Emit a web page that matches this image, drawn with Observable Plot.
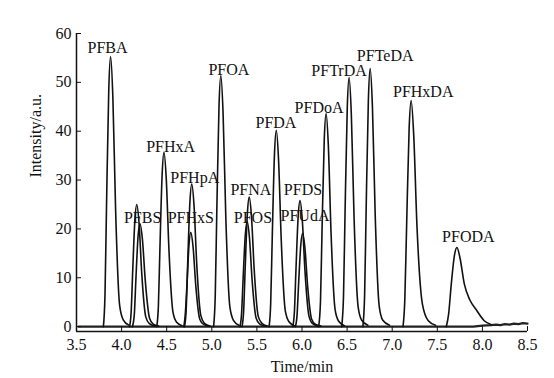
<!DOCTYPE html>
<html><head><meta charset="utf-8">
<script src="https://cdn.jsdelivr.net/npm/d3@7"></script>
<script src="https://cdn.jsdelivr.net/npm/@observablehq/plot@0.6"></script>
<style>body{margin:0;background:#fff}</style>
</head><body><div id="chart"></div>
<script>
// Axis ticks
const xTicks = [3.5, 4.0, 4.5, 5.0, 5.5, 6.0, 6.5, 7.0, 7.5, 8.0, 8.5];
const yTicks = [0, 10, 20, 30, 40, 50, 60];
const xDomain = [3.5, 8.5];
const yDomain = [-1, 60];

// Chromatogram traces: [time (min), intensity (a.u.)]
const PFBA   = [[3.798,0],[3.816,6.6],[3.833,24.9],[3.858,48.7],[3.878,55.3],[3.903,47.0],[3.933,24.3],[3.978,4.4],[4.018,1.4],[4.08,0.3]];
const PEAK2  = [[4.088,0],[4.106,3.0],[4.123,11.3],[4.148,22.0],[4.168,25.0],[4.193,21.3],[4.223,11.0],[4.268,2.0],[4.308,0.6],[4.37,0.1]];
const PFBS   = [[4.12,0],[4.141,2.5],[4.158,9.5],[4.183,18.6],[4.203,21.1],[4.23,18.0],[4.263,9.3],[4.31,1.7],[4.35,0.5],[4.41,0.1]];
const PFHxA  = [[4.39,0],[4.408,4.3],[4.425,16.1],[4.45,31.4],[4.47,35.7],[4.495,30.3],[4.525,15.7],[4.57,2.9],[4.61,0.9],[4.67,0.2]];
const PFHpA  = [[4.698,0],[4.716,3.5],[4.733,13.1],[4.758,25.7],[4.778,29.2],[4.803,24.8],[4.833,12.8],[4.878,2.3],[4.918,0.7],[4.98,0.1]];
const PFHxS  = [[4.69,0],[4.705,2.3],[4.725,8.7],[4.748,17.0],[4.767,19.3],[4.792,16.4],[4.822,8.5],[4.867,1.5],[4.907,0.5],[4.97,0.1]];
const PFOA   = [[5.02,0],[5.038,6.2],[5.055,23.1],[5.08,45.2],[5.10,51.4],[5.125,43.7],[5.155,22.6],[5.20,4.1],[5.24,1.3],[5.30,0.3]];
const PFNA   = [[5.335,0],[5.353,3.2],[5.37,11.9],[5.395,23.3],[5.415,26.5],[5.44,22.5],[5.47,11.7],[5.515,2.1],[5.555,0.7],[5.615,0.1]];
const PFOS   = [[5.312,0],[5.33,2.6],[5.347,9.7],[5.372,18.9],[5.392,21.5],[5.417,18.3],[5.447,9.5],[5.492,1.7],[5.532,0.5],[5.595,0.1]];
const PFDA   = [[5.635,0],[5.653,4.8],[5.67,18.1],[5.695,35.4],[5.715,40.2],[5.74,34.2],[5.77,17.7],[5.815,3.2],[5.855,1.0],[5.915,0.2]];
const PFDS   = [[5.898,0],[5.916,3.1],[5.933,11.6],[5.958,22.7],[5.978,25.8],[6.003,21.9],[6.033,11.4],[6.078,2.1],[6.118,0.6],[6.18,0.1]];
const PFUdA  = [[5.927,0],[5.945,2.3],[5.962,8.6],[5.987,16.8],[6.007,19.1],[6.032,16.2],[6.062,8.4],[6.107,1.5],[6.147,0.5],[6.21,0.1]];
const PFDoA  = [[6.185,0],[6.205,5.2],[6.222,19.6],[6.247,38.4],[6.267,43.6],[6.292,37.1],[6.322,19.2],[6.367,3.5],[6.407,1.1],[6.47,0.2]];
const PFTrDA = [[6.44,0],[6.46,6.1],[6.477,23.0],[6.502,44.9],[6.522,51.0],[6.547,43.4],[6.577,22.4],[6.622,4.1],[6.662,1.3],[6.73,0.3]];
const PFTeDA = [[6.675,0],[6.694,6.3],[6.711,23.8],[6.736,46.5],[6.756,52.8],[6.781,44.9],[6.811,23.2],[6.856,4.2],[6.896,1.3],[6.97,0.3]];
const PFHxDA = [[7.12,0],[7.14,5.6],[7.16,20.8],[7.188,40.7],[7.21,46.3],[7.238,39.4],[7.275,20.4],[7.335,4.6],[7.40,1.2],[7.48,0.3]];
const PFODA  = [[7.60,0],[7.625,2.5],[7.655,8.7],[7.69,14.6],[7.718,16.2],[7.75,14.2],[7.80,8.7],[7.86,5.5],[7.93,3.5],[8.02,1.2],[8.1,0.4]];
const BASELINE = [[3.52,0],[7.9,0],[8.0,0.2],[8.1,0.3],[8.15,0.4],[8.2,0.3],[8.25,0.5],[8.3,0.4],[8.35,0.6],[8.4,0.5],[8.45,0.7],[8.5,0.6]];

const traceNames = ["PFBA","PEAK2","PFBS","PFHxA","PFHpA","PFHxS","PFOA","PFNA","PFOS","PFDA","PFDS","PFUdA","PFDoA","PFTrDA","PFTeDA","PFHxDA","PFODA"];
const traceData  = [PFBA,PEAK2,PFBS,PFHxA,PFHpA,PFHxS,PFOA,PFNA,PFOS,PFDA,PFDS,PFUdA,PFDoA,PFTrDA,PFTeDA,PFHxDA,PFODA];

// Peak labels
const labelNames = ["PFBA","PFBS","PFHxA","PFHpA","PFHxS","PFOA","PFNA","PFOS","PFDA","PFDS","PFUdA","PFDoA","PFTrDA","PFTeDA","PFHxDA","PFODA"];
const labelTimes = [3.844,4.233,4.544,4.811,4.767,5.189,5.433,5.456,5.711,6.011,6.033,6.189,6.411,6.922,7.344,7.844];
const labelIntensities = [57.0,22.3,36.7,30.5,22.3,52.5,27.9,22.3,41.8,27.9,22.7,44.7,52.3,55.5,48.0,18.4];

const rows = traceData.flatMap((pts, i) => pts.map(([t, v]) => ({name: traceNames[i], t, v})));
const base = BASELINE.map(([t, v]) => ({t, v}));
const labels = labelNames.map((n, i) => ({n, t: labelTimes[i], v: labelIntensities[i]}));

const chart = Plot.plot({
  width: 554, height: 378,
  marginLeft: 76, marginRight: 27, marginTop: 33, marginBottom: 47,
  style: {fontFamily: "'Liberation Serif', 'Times New Roman', serif", fontSize: "16px", color: "#111", background: "#fff", overflow: "visible"},
  x: {domain: xDomain, label: null},
  y: {domain: yDomain, label: null},
  marks: [
    Plot.line(base, {x: "t", y: "v", stroke: "#222", strokeWidth: 2.2}),
    Plot.line(rows, {x: "t", y: "v", z: "name", curve: "monotone-x", stroke: "#111", strokeWidth: 1.6}),
    Plot.ruleX([xDomain[0]], {y1: yDomain[0], y2: yDomain[1], stroke: "#111", strokeWidth: 1.5}),
    Plot.ruleY([yDomain[0]], {x1: xDomain[0], x2: xDomain[1], stroke: "#111", strokeWidth: 1.5}),
    Plot.axisX({ticks: xTicks, tickFormat: d3.format(".1f"), tickSize: -5, tickPadding: 12, label: null, fontSize: 16}),
    Plot.axisY({ticks: yTicks, tickSize: -5, tickPadding: 10, dx: 0, label: null, fontSize: 16}),
    Plot.text(labels, {x: "t", y: "v", text: "n", fontSize: 16, fill: "#111", lineAnchor: "middle"}),
    Plot.text(["Time/min"], {text: d => d, frameAnchor: "bottom", dy: 35, lineAnchor: "middle", fontSize: 16, fill: "#111"}),
    Plot.text(["Intensity/a.u."], {text: d => d, frameAnchor: "left", rotate: -90, dx: -41, dy: -5, lineAnchor: "middle", fontSize: 16, fill: "#111"})
  ]
});
document.getElementById("chart").appendChild(chart);
</script>
</body></html>
